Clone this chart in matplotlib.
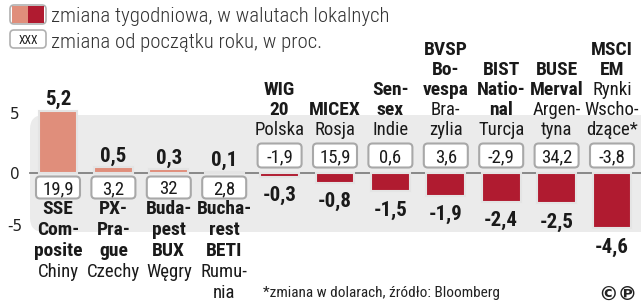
import matplotlib
matplotlib.use('Agg')
import matplotlib.pyplot as plt
from matplotlib.patches import FancyBboxPatch, Rectangle
from matplotlib.transforms import IdentityTransform
import numpy as np

# ---------------- data ----------------
index_names = [["SSE", "Com-", "posite"], ["PX-", "Pra-", "gue"], ["Buda-", "pest", "BUX"],
               ["Bucha-", "rest", "BETI"], ["WIG", "20"], ["MICEX"], ["Sen-", "sex"],
               ["BVSP", "Bo-", "vespa"], ["BIST", "Natio-", "nal"], ["BUSE", "Merval"], ["MSCI", "EM"]]
countries = [["Chiny"], ["Czechy"], ["Węgry"], ["Rumu-", "nia"], ["Polska"], ["Rosja"], ["Indie"],
             ["Bra-", "zylia"], ["Turcja"], ["Argen-", "tyna"], ["Rynki", "Wscho-", "dzące*"]]
weekly = [5.2, 0.5, 0.3, 0.1, -0.3, -0.8, -1.5, -1.9, -2.4, -2.5, -4.6]
ytd = [19.9, 3.2, 32, 2.8, -1.9, 15.9, 0.6, 3.6, -2.9, 34.2, -3.8]
y_ticks = [5, 0, -5]

legend_weekly = "zmiana tygodniowa, w walutach lokalnych"
legend_ytd = "zmiana od początku roku, w proc."
footnote = "*zmiana w dolarach, źródło: Bloomberg"

# ---------------- style ----------------
POS = '#e08e7b'
NEG = '#b01b30'
W, H = 641, 303
plt.rcParams['font.family'] = ['Roboto Condensed', 'DejaVu Sans']

PXX, PXY = 55.4, 12.0     # pixels per data unit
X0, Y0 = 58, 173          # pixel of (0, 0)

fig = plt.figure(figsize=(W / 100, H / 100), dpi=100)
ax = fig.add_axes([0, 0, 1, 1])
ax.set_xlim(-X0 / PXX, (W - X0) / PXX)
ax.set_ylim(-(H - Y0) / PXY, Y0 / PXY)
ax.axis('off')

def pxbox(x0, y0, x1, y1, **kw):
    r = kw.pop('r', 4)
    p = FancyBboxPatch((x0, H - y1), x1 - x0, y1 - y0,
                       boxstyle=f"round,pad=0,rounding_size={r}", **kw)
    ax.add_patch(p)
    p.set_transform(IdentityTransform())
    return p

# grey band
pxbox(30, 115, 680, 232, r=14, facecolor='#ebebeb', edgecolor='none', zorder=0)

x = np.arange(len(weekly))
colors = [POS if v > 0 else NEG for v in weekly]
ax.bar(x, weekly, width=0.7, color=colors, edgecolor='#e4e4e4', linewidth=1.5, zorder=3)
ax.axhline(0, xmin=30 / W, xmax=1, color='#808080', lw=1.3, zorder=2)

for yt in y_ticks:
    ax.annotate(f"{yt}", (ax.get_xlim()[0], yt), xytext=(15, 8 if yt < 0 else 0),
                textcoords='offset pixels', ha='center', va='center_baseline', fontsize=11,
                color='#222222', family='DejaVu Sans')

asp = PXX / PXY
bw = 44 / PXX
for i, v in enumerate(weekly):
    # weekly value label
    off = 13 if v > 0 else -17
    ax.annotate(f"{v:.1f}".replace('.', ','), (i, v), xytext=(0, off), textcoords='offset pixels',
                ha='center', va='center_baseline', fontsize=15, fontweight='bold',
                color='#1a1a1a', zorder=5)
    # ytd box
    cy = (-14.5 if v > 0 else 17.5) / PXY
    bh = (22 if v > 0 else 24) / PXY
    box = FancyBboxPatch((i - bw / 2, cy - bh / 2), bw, bh,
                         boxstyle=f"round,pad=0,rounding_size={4 / PXX}", mutation_aspect=asp,
                         facecolor='white', edgecolor='#a8a8a8', linewidth=1.5, zorder=4)
    ax.add_patch(box)
    ax.text(i, cy, f"{ytd[i]:g}".replace('.', ','), ha='center', va='center_baseline',
            fontsize=13.5, color='#1a1a1a', zorder=5)
    # category labels
    lines = [(s, 'bold', 14) for s in index_names[i]] + [(s, 'normal', 13.5) for s in countries[i]]
    n = len(lines)
    for k, (s, wt, fs) in enumerate(lines):
        dy = -34 - 21 * k if v > 0 else 45 + 20 * (n - 1 - k)
        ax.annotate(s, (i, 0), xytext=(0, dy), textcoords='offset pixels',
                    ha='center', va='center_baseline', fontsize=fs, fontweight=wt,
                    color='#1a1a1a', zorder=5)

# legend
pxbox(10, 5, 46, 24, r=4, facecolor='white', edgecolor='#b0b0b0', linewidth=1.2, zorder=5)
for x0, c in ((12, POS), (28, NEG)):
    rct = Rectangle((x0, H - 23), 16, 17, facecolor=c, edgecolor='none', zorder=6)
    ax.add_patch(rct)
    rct.set_transform(IdentityTransform())
pxbox(10, 30, 46, 48, r=4, facecolor='white', edgecolor='#b0b0b0', linewidth=1.2, zorder=5)
fig.text(28 / W, 1 - 39 / H, "XXX", ha='center', va='center_baseline', fontsize=8.5,
         color='#1a1a1a', zorder=10)
fig.text(51 / W, 1 - 14 / H, legend_weekly, ha='left', va='center_baseline', fontsize=15,
         color='#333333', fontweight='light')
fig.text(51 / W, 1 - 41 / H, legend_ytd, ha='left', va='center_baseline', fontsize=15,
         color='#333333', fontweight='light')

fig.text(500 / W, 1 - 292 / H, footnote, ha='right', va='center_baseline', fontsize=11,
         color='#222222')
fig.text(637 / W, 1 - 292 / H, "©℗", ha='right', va='center_baseline', fontsize=14,
         fontweight='bold', color='#222222', family='DejaVu Sans')

fig.savefig('out.png', dpi=100)
